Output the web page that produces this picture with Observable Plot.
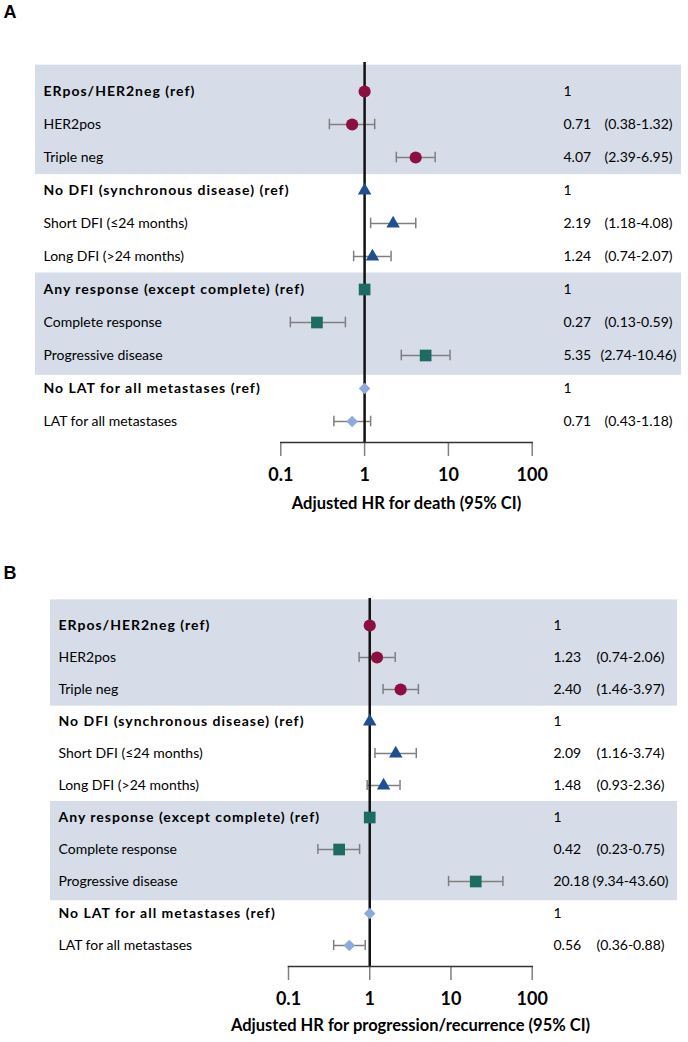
<!DOCTYPE html>
<html><head><meta charset="utf-8">
<script src="https://cdn.jsdelivr.net/npm/d3@7"></script>
<script src="https://cdn.jsdelivr.net/npm/@observablehq/plot@0.6"></script>
<style>
body{margin:0;background:#fff;}
svg{display:block}
g[font-weight="bold"][font-size="14"] text{letter-spacing:1px;}
</style>
</head><body><div id="chart"></div>
<script>
// ---- data ----
const rowLabels = [
  "ERpos/HER2neg (ref)", "HER2pos", "Triple neg",
  "No DFI (synchronous disease) (ref)", "Short DFI (\u226424 months)", "Long DFI (>24 months)",
  "Any response (except complete) (ref)", "Complete response", "Progressive disease",
  "No LAT for all metastases (ref)", "LAT for all metastases"
];
const refRow = [true,false,false,true,false,false,true,false,false,true,false];
const groupOf = ["subtype","subtype","subtype","dfi","dfi","dfi","resp","resp","resp","lat","lat"];

const hrDeath = [1, 0.71, 4.07, 1, 2.19, 1.24, 1, 0.27, 5.35, 1, 0.71];
const loDeath = [null, 0.38, 2.39, null, 1.18, 0.74, null, 0.13, 2.74, null, 0.43];
const hiDeath = [null, 1.32, 6.95, null, 4.08, 2.07, null, 0.59, 10.46, null, 1.18];

const hrProg = [1, 1.23, 2.40, 1, 2.09, 1.48, 1, 0.42, 20.18, 1, 0.56];
const loProg = [null, 0.74, 1.46, null, 1.16, 0.93, null, 0.23, 9.34, null, 0.36];
const hiProg = [null, 2.06, 3.97, null, 3.74, 2.36, null, 0.75, 43.60, null, 0.88];

const xTicks = [0.1, 1, 10, 100];
const panelLetters = ["A", "B"];
const axisTitles = ["Adjusted HR for death (95% CI)", "Adjusted HR for progression/recurrence (95% CI)"];
const bandRows = [[-0.8, 2.52], [5.5, 8.6]];

// ---- styles ----
const symbols = {subtype: "circle", dfi: "triangle", resp: "square", lat: "diamond2"};
const colors = {subtype: "#8B1040", dfi: "#1F4E91", resp: "#1E6B64", lat: "#8EA9DB"};
const radius = {subtype: 6.1, dfi: 5.0, resp: 6.6, lat: 5.2};
const FONT = "Lato, 'Open Sans', sans-serif";

function panel(hr, lo, hi, letter, title, L) {
  const rows = rowLabels.map((label, i) => ({i, label, ref: refRow[i], group: groupOf[i], hr: hr[i], lo: lo[i], hi: hi[i]}));
  const ci = rows.filter(d => d.lo != null);
  const dotMarks = Object.keys(symbols).map(g =>
    Plot.dot(rows.filter(d => d.group === g), {x: "hr", y: "i", symbol: symbols[g], fill: colors[g], r: radius[g], stroke: "none"})
  );
  return Plot.plot({
    width: 688, height: L.height,
    marginLeft: L.left, marginRight: 688 - L.right, marginTop: L.top, marginBottom: L.height - L.axisY,
    style: {fontFamily: FONT, background: "#fff", overflow: "visible", color: "#000"},
    x: {type: "log", domain: [0.1, 100], axis: null},
    y: {domain: [0, 10], range: [L.row0, L.row0 + 10 * L.step], axis: null},
    marks: [
      Plot.rect(bandRows, {y1: d => d[0], y2: d => d[1], fill: "#D6DDE8",
        insetLeft: -(L.left - L.bandL), insetRight: -(L.bandR - L.right)}),
      Plot.ruleY(ci, {y: "i", x1: "lo", x2: "hi", stroke: "#7F7F7F", strokeWidth: 1.5}),
      Plot.ruleX(ci, {x: "lo", y1: d => d.i - 0.16, y2: d => d.i + 0.16, stroke: "#7F7F7F", strokeWidth: 1.5}),
      Plot.ruleX(ci, {x: "hi", y1: d => d.i - 0.16, y2: d => d.i + 0.16, stroke: "#7F7F7F", strokeWidth: 1.5}),
      Plot.axisX(xTicks, {tickSize: 14, tickPadding: 12, stroke: "#808080", strokeWidth: 1.5,
        fontSize: 18, fontWeight: "bold", tickFormat: d => String(d), label: null}),
      Plot.ruleX([1], {stroke: "#111", strokeWidth: 2.5}),
      Plot.frame({anchor: "bottom", stroke: "#333", strokeWidth: 1.5}),
      ...dotMarks,
      Plot.text(rows.filter(d => d.ref), {y: "i", text: "label", frameAnchor: "left", textAnchor: "start",
        dx: L.labelX - L.left, fontSize: 14, fontWeight: "bold", fill: "#000"}),
      Plot.text(rows.filter(d => !d.ref), {y: "i", text: "label", frameAnchor: "left", textAnchor: "start",
        dx: L.labelX - L.left, fontSize: 14, fill: "#000"}),
      Plot.text(rows, {y: "i", text: d => d.ref ? "1" : d.hr.toFixed(2), frameAnchor: "right", textAnchor: "start",
        dx: L.valX - L.right, fontSize: 14, fill: "#000"}),
      Plot.text(ci, {y: "i", text: d => `(${d.lo.toFixed(2)}-${d.hi.toFixed(2)})`, frameAnchor: "right", textAnchor: "middle",
        dx: L.ciX - L.right, fontSize: 14, fill: "#000"}),
      Plot.text([title], {text: d => d, frameAnchor: "bottom", dy: L.titleY - L.axisY,
        dx: L.titleX - (L.left + L.right) / 2, fontSize: 16.5, fontWeight: "bold", fill: "#000"}),
      Plot.text([letter], {text: d => d, frameAnchor: "top-left", textAnchor: "start", lineAnchor: "middle",
        dx: 3 - L.left, dy: L.letterY - L.top, fontSize: 18, fontWeight: "bold", fontFamily: "'Liberation Sans', Arial, sans-serif", fill: "#000"})
    ]
  });
}

const layoutA = {height: 530, left: 280.3, right: 531.7, top: 62, axisY: 442, row0: 91, step: 33,
  bandL: 35, bandR: 681, labelX: 43, valX: 563, ciX: 638, titleY: 508, titleX: 406, letterY: 12};
const layoutB = {height: 512, left: 288, right: 531.7, top: 68, axisY: 436, row0: 95, step: 32,
  bandL: 50, bandR: 677, labelX: 58, valX: 553, ciX: 630, titleY: 500, titleX: 410, letterY: 42.5};

const chart = document.getElementById("chart");
chart.append(panel(hrDeath, loDeath, hiDeath, panelLetters[0], axisTitles[0], layoutA));
chart.append(panel(hrProg, loProg, hiProg, panelLetters[1], axisTitles[1], layoutB));
</script>
</body></html>
